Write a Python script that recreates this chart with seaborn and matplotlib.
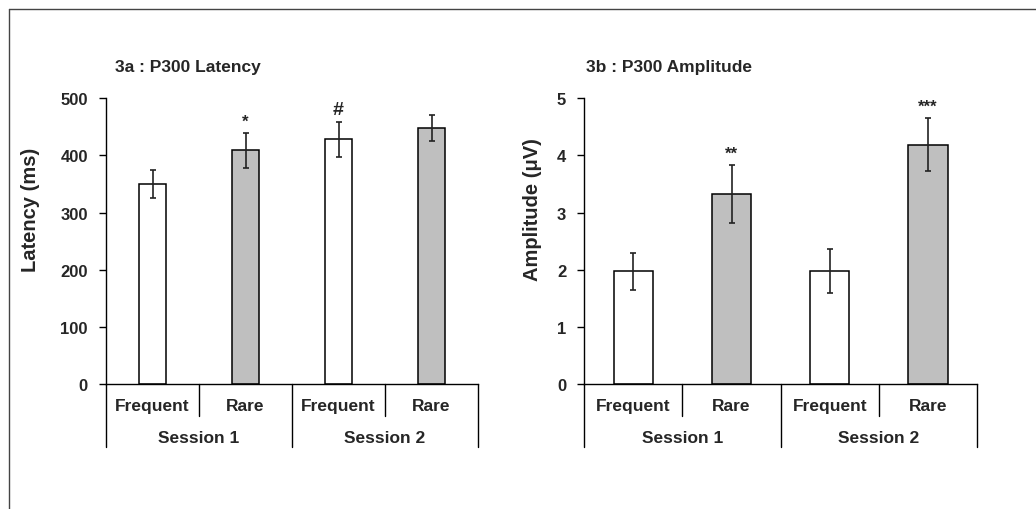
import numpy as np
import pandas as pd
import matplotlib
matplotlib.use("Agg")
import matplotlib.pyplot as plt
import seaborn as sns
from matplotlib.lines import Line2D
from matplotlib.transforms import blended_transform_factory

sns.set_style("white")
plt.rcParams['font.family'] = ['Liberation Sans', 'DejaVu Sans']
plt.rcParams['font.weight'] = 'bold'

sessions = ["Session 1", "Session 1", "Session 2", "Session 2"]
stimuli = ["Frequent", "Rare", "Frequent", "Rare"]
session_labels = ["Session 1", "Session 2"]

latency_mean = [350, 409, 428, 448]
latency_err = [25, 31, 31, 23]
latency_marks = ["", "*", "#", ""]

amp_mean = [1.97, 3.32, 1.98, 4.19]
amp_err = [0.32, 0.51, 0.39, 0.46]
amp_marks = ["", "**", "", "***"]

latency_ticks = [0, 100, 200, 300, 400, 500]
amp_ticks = [0, 1, 2, 3, 4, 5]

W, H = 1036, 510
fig = plt.figure(figsize=(W / 100, H / 100), dpi=100)

# outer frame (cropped on right/bottom)
fig.add_artist(Line2D([9 / W, 1.0], [1 - 10 / H, 1 - 10 / H], color="#444444", lw=1.0))
fig.add_artist(Line2D([9 / W, 9 / W], [1 - 10 / H, 0.0], color="#444444", lw=1.0))

palette = {"Frequent": "white", "Rare": "#BFBFBF"}


def panel(rect, means, errs, marks, ticks, ylabel, title, width, title_x, ylabel_x):
    ax = fig.add_axes(rect)
    cond = [f"{s}|{t}" for s, t in zip(sessions, stimuli)]
    df = pd.DataFrame({"cond": cond, "stim": stimuli, "value": means})
    sns.barplot(data=df, x="cond", y="value", hue="stim", palette=palette,
                dodge=False, legend=False, edgecolor="black", linewidth=1.1,
                width=width, errorbar=None, ax=ax, order=cond)
    xs = np.arange(len(means))
    ax.errorbar(xs, means, yerr=errs, fmt="none", ecolor="#222222",
                elinewidth=1.2, capsize=2.3, capthick=1.2, zorder=5)
    for x, m, e, t in zip(xs, means, errs, marks):
        if t:
            fs = 14 if t == "#" else 12
            ax.annotate(t, (x, m + e), xytext=(0, 3), textcoords="offset points",
                        ha="center", va="bottom", fontsize=fs, fontweight="bold")
    ax.set_xlim(-0.5, len(means) - 0.5)
    ax.set_ylim(ticks[0], ticks[-1])
    ax.set_yticks(ticks)
    ax.set_yticklabels([str(t) for t in ticks], fontsize=12, fontweight="bold")
    ax.tick_params(axis="y", direction="out", length=5, width=1, pad=8, left=True, color="black")
    ax.set_xticks([])
    ax.set_xlabel("")
    for s in ["top", "right"]:
        ax.spines[s].set_visible(False)
    for s in ["left", "bottom"]:
        ax.spines[s].set_color("black")
        ax.spines[s].set_linewidth(1.0)
    ax.set_ylabel(ylabel, fontsize=14.5, fontweight="bold")
    ax.yaxis.set_label_coords(ylabel_x, 0.614)
    ax.yaxis.label.set_verticalalignment("center")

    # multi-level category axis
    tr = blended_transform_factory(ax.transData, ax.transAxes)
    ax_h_px = rect[3] * H
    short = -32 / ax_h_px
    long = -63 / ax_h_px
    for b in [-0.5, 1.5, 3.5]:
        ax.plot([b, b], [0, long], transform=tr, color="black", lw=1.0, clip_on=False)
    for b in [0.5, 2.5]:
        ax.plot([b, b], [0, short], transform=tr, color="black", lw=1.0, clip_on=False)
    for x, t in zip(xs, stimuli):
        ax.text(x, -21.7 / ax_h_px, t, transform=tr, ha="center", va="center",
                fontsize=12.5, fontweight="bold")
    for i, s in enumerate(session_labels):
        ax.text(2 * i + 0.5, -53.3 / ax_h_px, s, transform=tr, ha="center", va="center",
                fontsize=12.5, fontweight="bold")
    fig.text(title_x, 1 - 67.7 / H, title, ha="left", va="center", fontsize=12.5, fontweight="bold")
    return ax


bottom = (H - 385) / H
height = (385 - 99.3) / H
panel([106 / W, bottom, 372 / W, height], latency_mean, latency_err, latency_marks,
      latency_ticks, "Latency (ms)", "3a : P300 Latency", 0.28, 115 / W, (30 - 106) / 372)
panel([584.3 / W, bottom, 392.7 / W, height], amp_mean, amp_err, amp_marks,
      amp_ticks, "Amplitude (μV)", "3b : P300 Amplitude", 0.40, 586 / W, (533 - 584.3) / 392.7)

fig.savefig("out.png", dpi=100, facecolor="white")
